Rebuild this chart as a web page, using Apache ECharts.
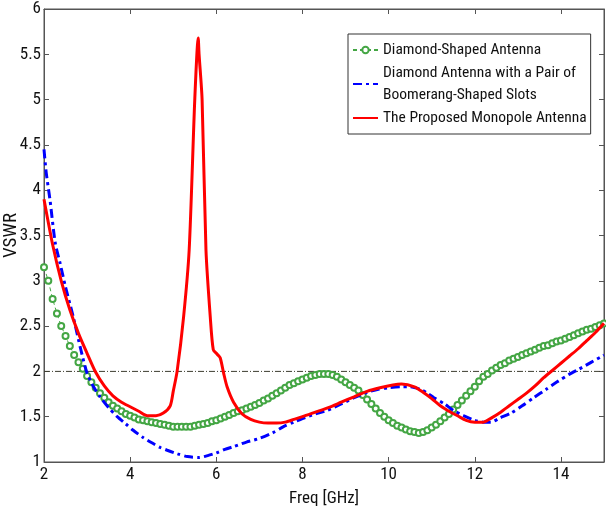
<!DOCTYPE html>
<html>
<head>
<meta charset="utf-8">
<script src="https://cdn.jsdelivr.net/npm/echarts@6/dist/echarts.min.js"></script>
<style>
  html, body { margin: 0; padding: 0; background: #fff; }
  #chart { width: 606px; height: 506px; }
</style>
</head>
<body>
<div id="chart"></div>
<script>
// VSWR vs frequency, three antenna variants + VSWR=2 reference
const FONT = "'Roboto Condensed', 'DejaVu Sans Condensed', sans-serif";

// green curve is sampled every 0.1 GHz from 2 GHz (one circle per sample)
const greenStart = 2.0;
const greenStep = 0.1;
const greenVswr = [
  3.15, 3.00, 2.80, 2.64, 2.50, 2.39, 2.28, 2.18, 2.10, 2.03,
  1.95, 1.88, 1.82, 1.76, 1.71, 1.66, 1.62, 1.59, 1.56, 1.53,
  1.51, 1.49, 1.47, 1.46, 1.45, 1.44, 1.43, 1.42, 1.41, 1.40,
  1.39, 1.39, 1.39, 1.39, 1.39, 1.40, 1.41, 1.42, 1.43, 1.45,
  1.46, 1.48, 1.50, 1.52, 1.54, 1.56, 1.57, 1.59, 1.61, 1.63,
  1.65, 1.68, 1.70, 1.73, 1.76, 1.79, 1.82, 1.85, 1.87, 1.89,
  1.91, 1.93, 1.95, 1.96, 1.97, 1.97, 1.97, 1.96, 1.94, 1.91,
  1.88, 1.85, 1.82, 1.79, 1.74, 1.69, 1.64, 1.59, 1.54, 1.50,
  1.46, 1.43, 1.40, 1.38, 1.36, 1.34, 1.33, 1.32, 1.33, 1.35,
  1.38, 1.41, 1.45, 1.49, 1.53, 1.58, 1.63, 1.68, 1.73, 1.78,
  1.83, 1.89, 1.94, 1.97, 2.01, 2.04, 2.07, 2.09, 2.12, 2.14,
  2.16, 2.18, 2.20, 2.22, 2.24, 2.26, 2.28, 2.29, 2.31, 2.33,
  2.34, 2.36, 2.38, 2.40, 2.42, 2.44, 2.46, 2.47, 2.49, 2.51,
  2.53
];

const blueFreq = [2.0, 2.05, 2.14, 2.26, 2.37, 2.5, 2.68, 2.85, 3.0, 3.15, 3.3, 3.5, 3.7, 3.9, 4.07, 4.3, 4.47, 4.7, 4.86, 5.1,
  5.33, 5.6, 5.8, 6.0, 6.2, 6.4, 6.7, 7.0, 7.3, 7.56, 7.8, 8.0, 8.3, 8.58, 8.9, 9.2, 9.5, 9.74, 10.0, 10.3,
  10.5, 10.74, 10.9, 11.05, 11.3, 11.5, 11.75, 12.0, 12.2, 12.37, 12.6, 12.84, 13.1, 13.37, 13.65, 13.93, 14.2, 14.4, 14.7, 15.0];
const blueVswr = [4.45, 4.2, 3.89, 3.42, 3.2, 2.93, 2.6, 2.25, 1.98, 1.83, 1.72, 1.6, 1.5, 1.42, 1.35, 1.27, 1.22, 1.16, 1.13, 1.09,
  1.06, 1.05, 1.07, 1.1, 1.14, 1.17, 1.22, 1.26, 1.32, 1.39, 1.44, 1.48, 1.53, 1.57, 1.64, 1.71, 1.77, 1.8, 1.82, 1.83,
  1.83, 1.8, 1.76, 1.71, 1.64, 1.57, 1.51, 1.46, 1.44, 1.44, 1.49, 1.54, 1.62, 1.71, 1.8, 1.89, 1.97, 2.02, 2.1, 2.18];

const redFreq = [2.0, 2.2, 2.4, 2.6, 2.8, 3.0, 3.2, 3.4, 3.6, 3.8, 4.0, 4.2, 4.4, 4.6, 4.77, 4.93, 5.0, 5.09, 5.24, 5.37,
  5.5, 5.58, 5.6, 5.67, 5.76, 5.86, 5.93, 6.02, 6.09, 6.17, 6.25, 6.4, 6.6, 6.8, 7.0, 7.2, 7.4, 7.6, 7.8, 8.0,
  8.3, 8.6, 8.9, 9.2, 9.5, 9.8, 10.1, 10.3, 10.6, 10.8, 11.0, 11.2, 11.4, 11.6, 11.8, 12.0, 12.2, 12.4, 12.6, 12.8,
  13.0, 13.2, 13.4, 13.6, 13.8, 14.0, 14.2, 14.4, 14.6, 14.8, 15.0];
const redVswr = [3.9, 3.4, 3.0, 2.68, 2.42, 2.2, 1.99, 1.84, 1.73, 1.66, 1.61, 1.56, 1.51, 1.51, 1.54, 1.62, 1.78, 2.0, 2.6, 3.34,
  5.0, 5.68, 5.5, 5.0, 3.34, 2.6, 2.24, 2.19, 2.15, 1.98, 1.83, 1.66, 1.53, 1.47, 1.44, 1.43, 1.43, 1.44, 1.47, 1.5,
  1.55, 1.6, 1.66, 1.72, 1.78, 1.82, 1.85, 1.86, 1.83, 1.77, 1.7, 1.62, 1.56, 1.51, 1.46, 1.44, 1.44, 1.49, 1.55, 1.62,
  1.69, 1.76, 1.84, 1.93, 2.01, 2.09, 2.17, 2.25, 2.34, 2.43, 2.53];

const refFreq = [2, 15];
const refVswr = [2, 2];

const seriesNames = [
  'Diamond-Shaped Antenna',
  'Diamond Antenna with a Pair of\nBoomerang-Shaped Slots',
  'The Proposed Monopole Antenna'
];

const zip = (xs, ys) => xs.map((x, i) => [x, ys[i]]);
const greenData = greenVswr.map((v, i) => [+(greenStart + i * greenStep).toFixed(2), v]);

const chart = echarts.init(document.getElementById('chart'));
const axisColor = '#555';
const textColor = '#111';
const tickStyle = { inside: true, length: 5, lineStyle: { color: axisColor } };

chart.setOption({
  animation: false,
  textStyle: { fontFamily: FONT },
  grid: {
    left: 44, top: 9, right: 2, bottom: 44, outerBoundsMode: 'none',
    show: true, borderColor: axisColor, borderWidth: 1,
  },
  legend: {
    left: 348, top: 34,
    orient: 'vertical',
    data: [
      { name: seriesNames[0] },
      { name: seriesNames[1], itemStyle: { opacity: 0 } },
      { name: seriesNames[2], itemStyle: { opacity: 0 } },
    ],
    backgroundColor: '#fff',
    borderColor: '#333', borderWidth: 1,
    padding: [5, 4, 5, 4],
    itemGap: 1,
    itemWidth: 25, itemHeight: 8,
    textStyle: { fontFamily: FONT, fontSize: 15.5, color: textColor, lineHeight: 22 },
  },
  xAxis: [
    {
      type: 'value', min: 2, max: 15, interval: 2,
      name: 'Freq [GHz]', nameLocation: 'middle', nameGap: 28, nameMoveOverlap: false,
      nameTextStyle: { fontFamily: FONT, fontSize: 17, color: textColor, verticalAlign: 'top' },
      axisLine: { lineStyle: { color: axisColor } },
      axisTick: tickStyle,
      axisLabel: { fontFamily: FONT, fontSize: 17, color: textColor, margin: 4, showMaxLabel: false },
      splitLine: { show: false },
    },
    {
      type: 'value', min: 2, max: 15, interval: 2, position: 'top',
      axisLine: { lineStyle: { color: axisColor } },
      axisTick: tickStyle, axisLabel: { show: false }, splitLine: { show: false },
    },
  ],
  yAxis: [
    {
      type: 'value', min: 1, max: 6, interval: 0.5,
      name: 'VSWR', nameLocation: 'middle', nameGap: 23, nameMoveOverlap: false,
      nameTextStyle: { fontFamily: FONT, fontSize: 19, color: textColor },
      axisLine: { show: true, lineStyle: { color: axisColor } },
      axisTick: tickStyle,
      axisLabel: { fontFamily: FONT, fontSize: 17, color: textColor, margin: 3 },
      splitLine: { show: false },
    },
    {
      type: 'value', min: 1, max: 6, interval: 0.5, position: 'right',
      axisLine: { show: true, lineStyle: { color: axisColor } },
      axisTick: tickStyle, axisLabel: { show: false }, splitLine: { show: false },
    },
  ],
  series: [
    {
      name: 'ref', type: 'line', data: zip(refFreq, refVswr), symbol: 'none',
      lineStyle: { color: '#3d3d30', width: 1, type: [6, 2, 1, 2] }, silent: true, z: 1,
    },
    {
      name: seriesNames[0], type: 'line', data: greenData,
      symbol: 'emptyCircle', symbolSize: 6,
      itemStyle: { color: '#44a644', borderWidth: 1 },
      lineStyle: { color: '#44a644', width: 1, type: [4, 3] }, z: 2,
    },
    {
      name: seriesNames[1], type: 'line', data: zip(blueFreq, blueVswr), symbol: 'none',
      smooth: 0.25,
      itemStyle: { color: '#0000ff' },
      lineStyle: { color: '#0000ff', width: 3, type: [9, 4, 3, 4] }, z: 3,
    },
    {
      name: seriesNames[2], type: 'line', data: zip(redFreq, redVswr), symbol: 'none',
      smooth: 0.25,
      itemStyle: { color: '#ff0000' },
      lineStyle: { color: '#ff0000', width: 3 }, z: 4,
    },
  ],
});
</script>
</body>
</html>
